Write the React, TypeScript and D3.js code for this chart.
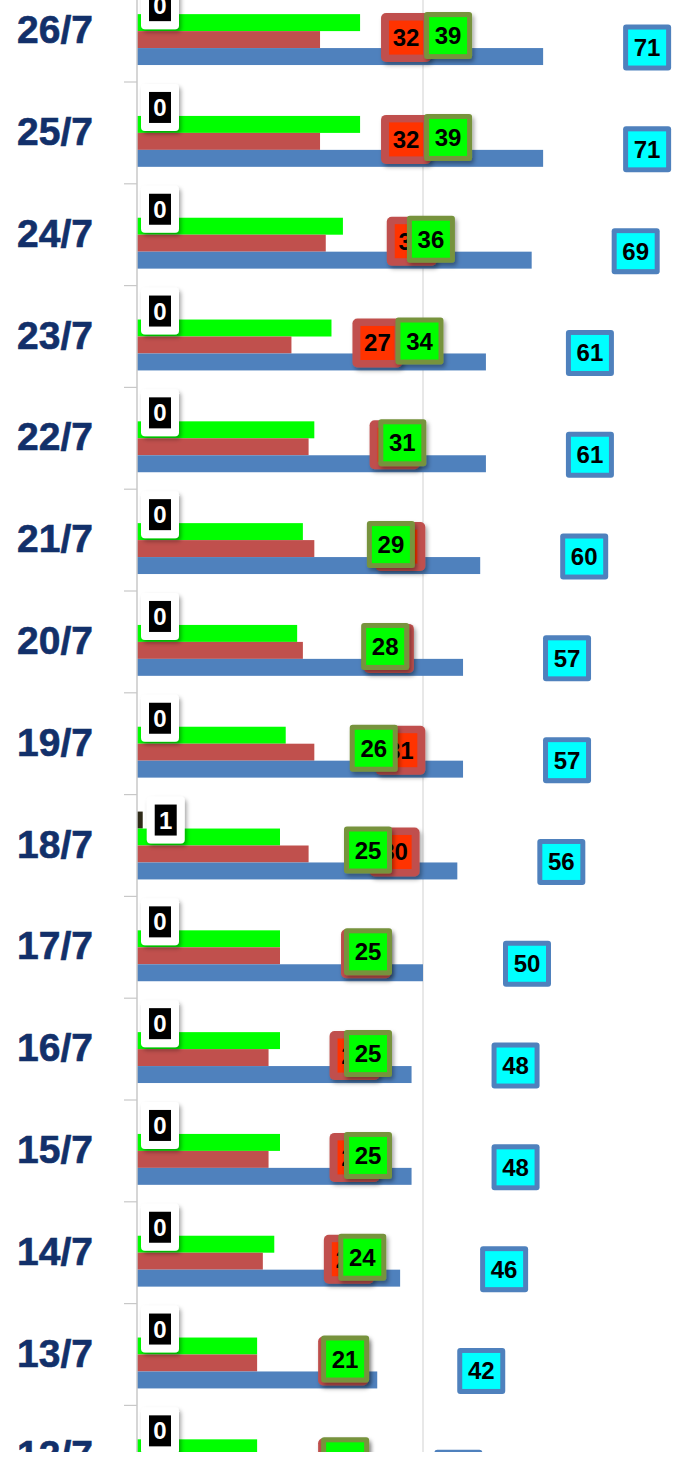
import * as d3 from 'd3';
import React, { useRef, useEffect } from 'react';

// categories, top to bottom
const dates = ["26/7", "25/7", "24/7", "23/7", "22/7", "21/7", "20/7", "19/7", "18/7", "17/7", "16/7", "15/7", "14/7", "13/7", "12/7"];
const blackVals = [0, 0, 0, 0, 0, 0, 0, 0, 1, 0, 0, 0, 0, 0, 0];
const greenVals = [39, 39, 36, 34, 31, 29, 28, 26, 25, 25, 25, 25, 24, 21, 21];
const redVals = [32, 32, 33, 27, 30, 31, 29, 31, 30, 25, 23, 23, 22, 21, 21];
const blueVals = [71, 71, 69, 61, 61, 60, 57, 57, 56, 50, 48, 48, 46, 42, 38];
const seriesKeys = ["black", "green", "red", "blue"];
const xTicks = [0, 50, 100];

function App() {
    const ref = useRef(null);
    const width = 687, height = 1452;

    useEffect(() => {
        draw();
    }, []);

    const draw = () => {
        const svg = d3.select(ref.current);
        svg.selectAll("*").remove();

        const rows = dates.map((d, i) => ({
            date: d, black: blackVals[i], green: greenVals[i], red: redVals[i], blue: blueVals[i]
        }));

        const bandStep = 101.8, top = -19.8;
        const x = d3.scaleLinear().domain([0, 100]).range([137, 709]);
        const y0 = d3.scaleBand().domain(dates).range([top, top + bandStep * dates.length]).padding(0);
        const y1 = d3.scaleBand().domain(seriesKeys).range([0, y0.bandwidth()]).paddingInner(0).paddingOuter(1);

        const colors = { black: "#2e2a18", green: "#00FF00", red: "#C0504D", blue: "#4F81BD" };

        const defs = svg.append("defs");
        const f = defs.append("filter").attr("id", "shadow").attr("x", "-30%").attr("y", "-30%").attr("width", "160%").attr("height", "160%");
        f.append("feDropShadow").attr("dx", 2).attr("dy", 3).attr("stdDeviation", 2).attr("flood-color", "#000").attr("flood-opacity", 0.35);

        // gridlines
        svg.selectAll(".grid")
            .data(xTicks.slice(1))
            .enter().append("line")
            .attr("x1", d => x(d)).attr("x2", d => x(d))
            .attr("y1", 0).attr("y2", height)
            .attr("stroke", "#D9D9D9").attr("stroke-width", 1.2);

        // bars
        const group = svg.selectAll(".date")
            .data(rows)
            .enter().append("g")
            .attr("transform", d => `translate(0,${y0(d.date)})`);

        seriesKeys.forEach(k => {
            group.append("rect")
                .attr("x", x(0))
                .attr("y", y1(k))
                .attr("width", d => x(d[k]) - x(0))
                .attr("height", y1.bandwidth())
                .attr("fill", colors[k]);
        });

        // category axis
        svg.append("line")
            .attr("x1", x(0)).attr("x2", x(0))
            .attr("y1", 0).attr("y2", height)
            .attr("stroke", "#C8C8C8").attr("stroke-width", 1.5);
        svg.selectAll(".tick")
            .data(dates)
            .enter().append("line")
            .attr("x1", x(0) - 13).attr("x2", x(0))
            .attr("y1", d => y0(d) + bandStep).attr("y2", d => y0(d) + bandStep)
            .attr("stroke", "#C8C8C8").attr("stroke-width", 1.2);

        svg.selectAll(".cat")
            .data(dates)
            .enter().append("text")
            .attr("x", 55)
            .attr("y", d => y0(d) + bandStep / 2 + 12)
            .attr("text-anchor", "middle")
            .style("font-family", "'Liberation Sans', Arial, sans-serif")
            .style("font-weight", "bold")
            .style("font-size", "39px")
            .attr("fill", "#12306A")
            .attr("stroke", "#12306A")
            .attr("stroke-width", 0.6)
            .text(d => d);

        // data labels
        const half = y1.bandwidth() / 2;
        const labelText = (g, fill) => {
            g.append("text")
                .attr("y", 8.5)
                .attr("text-anchor", "middle")
                .style("font-family", "'Liberation Sans', Arial, sans-serif")
                .style("font-weight", "bold")
                .style("font-size", "24px")
                .attr("fill", fill)
                .text(d => d.v);
        };
        const labelGroup = (k, dx, dy) => svg.selectAll(".lbl-" + k)
            .data(rows.map(r => ({ date: r.date, v: r[k] })))
            .enter().append("g")
            .attr("transform", d => `translate(${x(d.v) + dx},${y0(d.date) + y1(k) + half + dy})`);

        // blue
        const gb = labelGroup("blue", 104, -9);
        gb.append("rect").attr("x", -24).attr("y", -23).attr("width", 48).attr("height", 46).attr("rx", 3).attr("fill", "#4F81BD");
        gb.append("rect").attr("x", -19).attr("y", -18).attr("width", 38).attr("height", 36).attr("fill", "#00FFFF");
        labelText(gb, "#000");

        // red
        const gr = labelGroup("red", 86, -2);
        gr.append("rect").attr("x", -25).attr("y", -24.5).attr("width", 50).attr("height", 49).attr("rx", 5).attr("fill", "#C0504D").attr("filter", "url(#shadow)");
        gr.append("rect").attr("x", -17).attr("y", -17).attr("width", 34).attr("height", 34).attr("fill", "#FF3300");
        labelText(gr, "#000");

        // green
        const gg = labelGroup("green", 88, 13);
        gg.append("rect").attr("x", -24).attr("y", -23.5).attr("width", 48).attr("height", 47).attr("rx", 3).attr("fill", "#77933C").attr("filter", "url(#shadow)");
        gg.append("rect").attr("x", -19).attr("y", -18.5).attr("width", 38).attr("height", 37).attr("fill", "#00FF00");
        labelText(gg, "#000");

        // black
        const gk = labelGroup("black", 23, 0);
        gk.append("rect").attr("x", -19).attr("y", -23.5).attr("width", 38).attr("height", 47).attr("rx", 4).attr("fill", "#FFFFFF").attr("filter", "url(#shadow)");
        gk.append("rect").attr("x", -11).attr("y", -15.5).attr("width", 22).attr("height", 31).attr("fill", "#000");
        labelText(gk, "#FFF");
    };

    return (
        <svg ref={ref} width={width} height={height}
            style={{ position: "absolute", left: 0, top: 0, background: "#fff" }}></svg>
    );
}

export default App;
